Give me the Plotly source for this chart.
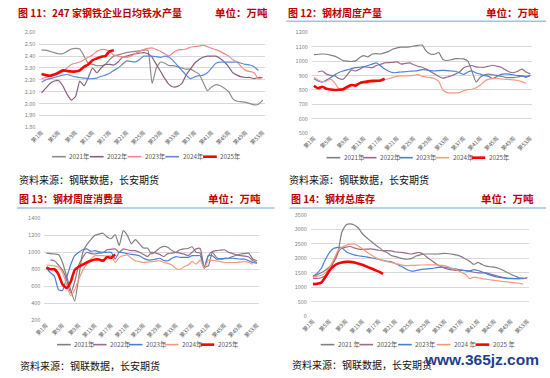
import plotly.graph_objects as go

W, H = 550, 378
FONT = "Noto Sans CJK SC"

WEEKS = [f"第{i}周" for i in range(1, 54)]
TICK_WEEKS = WEEKS[::4]
YEARS = ["2021年", "2022年", "2023年", "2024年", "2025年"]
YEARS_4 = ["2021 年", "2022年", "2023年", "2024 年", "2025 年"]
SOURCE = "资料来源：钢联数据，长安期货"
UNIT = "单位：万吨"

# ---- 图11 日均铁水产量 ----
IRON_2021 = [2.45, 2.45, 2.44, 2.43, 2.42, 2.42, 2.44, 2.46, 2.465, 2.46, 2.40, 2.34, 2.33, 2.32, 2.32, 2.33,
             2.37, 2.40, 2.41, 2.42, 2.43, 2.435, 2.44, 2.445, 2.45, 2.45, 2.17, 2.30, 2.35, 2.34, 2.32, 2.32,
             2.31, 2.30, 2.29, 2.29, 2.27, 2.25, 2.18, 2.11, 2.14, 2.16, 2.15, 2.13, 2.10, 2.04, 2.02, 2.015,
             2.01, 2.00, 1.99, 1.995, 2.03]
IRON_2022 = [2.09, 2.13, 2.17, 2.19, 2.195, 2.15, 2.08, 2.03, 2.06, 2.19, 2.15, 2.22, 2.30, 2.26, 2.30, 2.33,
             2.33, 2.325, 2.35, 2.39, 2.40, 2.41, 2.42, 2.425, 2.43, 2.42, 2.39, 2.33, 2.27, 2.21, 2.16, 2.14,
             2.145, 2.17, 2.24, 2.29, 2.34, 2.37, 2.39, 2.40, 2.40, 2.40, 2.38, 2.35, 2.31, 2.26, 2.24, 2.225,
             2.22, 2.22, 2.21, 2.22, 2.22]
IRON_2023 = [2.21, 2.22, 2.23, 2.24, 2.25, 2.27, 2.30, 2.33, 2.34, 2.35, 2.37, 2.39, 2.41, 2.44, 2.455, 2.455,
             2.44, 2.41, 2.40, 2.395, 2.39, 2.40, 2.42, 2.44, 2.455, 2.465, 2.47, 2.455, 2.44, 2.42, 2.40, 2.43,
             2.45, 2.455, 2.46, 2.475, 2.48, 2.485, 2.49, 2.48, 2.465, 2.455, 2.44, 2.42, 2.40, 2.37, 2.35, 2.31,
             2.28, 2.27, 2.26, 2.21, 2.22]
IRON_2024 = [2.18, 2.20, 2.21, 2.22, 2.23, 2.24, 2.245, 2.235, 2.225, 2.22, 2.215, 2.21, 2.21, 2.215, 2.23, 2.24,
             2.255, 2.28, 2.30, 2.33, 2.36, 2.355, 2.35, 2.37, 2.40, 2.40, 2.40, 2.395, 2.39, 2.40, 2.39, 2.36,
             2.32, 2.28, 2.24, 2.21, 2.225, 2.235, 2.24, 2.26, 2.30, 2.34, 2.35, 2.35, 2.35, 2.35, 2.35, 2.34,
             2.33, 2.325, 2.31, 2.28]
IRON_2025 = [2.25, 2.24, 2.235, 2.245, 2.26, 2.28, 2.275, 2.27, 2.27, 2.28, 2.31, 2.33, 2.365, 2.38, 2.395, 2.40,
             2.44, 2.45]

# ---- 图12 钢材周度产量 ----
PROD_2021 = [1045, 1048, 1050, 1048, 1042, 1035, 1020, 1005, 1000, 998, 1002, 1025, 1038, 1030, 1050, 1052,
             1050, 1058, 1068, 1085, 1093, 1098, 1098, 1100, 1105, 1110, 1112, 1070, 1050, 1048, 1060, 1012,
             1005, 1010, 1018, 1017, 1016, 1000, 930, 855, 890, 905, 910, 905, 902, 895, 888, 886,
             886, 890, 898, 895, 900]
PROD_2022 = [None, 925, 932, 910, 902, 898, 880, 875, 905, 940, 932, 945, 960, 958, 955, 970,
             978, 988, 990, 992, 995, 980, 985, 988, 975, 965, 958, 945, 928, 912, 895, 882,
             890, 898, 910, 925, 955, 965, 970, 960, 958, 958, 965, 972, 965, 958, 940, 925,
             920, 930, 945, 925, 912]
PROD_2023 = [878, 862, 855, 870, 885, 905, 922, 932, 940, 948, 955, 958, 962, 970, 980, 988,
             968, 945, 930, 920, 922, 925, 927, 930, 932, 935, 942, 940, 935, 932, 935, 936,
             935, 932, 930, 920, 908, 925, 932, 918, 910, 900, 895, 880, 895, 908, 912, 910,
             905, 900, 898, 888, 902]
PROD_2024 = [886, 870, 858, 862, 875, 850, 807, 797, 810, 830, 840, 845, 848, 850, 852, 858,
             864, 870, 880, 888, 895, 898, 898, 900, 902, 908, 895, 890, 886, 878, 860, 800,
             782, 780, 780, 782, 795, 802, 805, 815, 835, 860, 875, 878, 882, 876, 874, 872,
             870, 866, 858, 845]
PROD_2025 = [830, 812, 823, 808, 803, 800, 802, 805, 822, 835, 830, 848, 855, 860, 864, 864,
             866, 878]

# ---- 图13 钢材周度消费量 ----
CONS_2021 = [990, 985, 980, 975, 880, 720, 560, 425, 700, 1000, 1090, 1150, 1200, 1215, 1225, 1180,
             1160, 1210, 1080, 1256, 1200, 1100, 1150, 1100, 1050, 1050, 980, 1010, 1050, 1070, 1060, 1020,
             1000, 1030, 1040, 1045, 1065, 1000, 990, 830, 840, 1000, 940, 920, 925, 930, 950, 965,
             980, 985, 990, 920, 900]
CONS_2022 = [None, 910, 900, 850, 790, 680, 520, 650, 850, 940, 1000, 985, 980, 990, 995, 1030,
             1035, 1040, 1000, 1040, 1030, 1020, 1020, 1000, 975, 950, 1000, 990, 975, 950, 985, 990,
             1000, 990, 980, 960, 1000, 1040, 1045, 810, 960, 1010, 1020, 1025, 1030, 1000, 985, 970,
             960, 955, 945, 900, 880]
CONS_2023 = [815, 760, 720, 560, 550, 700, 850, 960, 1000, 1030, 1040, 1010, 1020, 1005, 1000, 1000,
             1000, 920, 1000, 995, 985, 975, 970, 960, 930, 910, 910, 920, 930, 905, 900, 930,
             950, 940, 940, 940, 960, 960, 960, 820, 960, 960, 920, 925, 930, 930, 930, 925,
             920, 920, 900, 880, 870]
CONS_2024 = [850, 845, 840, 825, 760, 620, 490, 560, 680, 790, 860, 920, 960, 960, 960, 955,
             960, 880, 940, 960, 970, 930, 900, 890, 880, 885, 890, 895, 900, 880, 870, 850,
             810, 800, 830, 850, 890, 860, 910, 810, 910, 905, 900, 890, 880, 880, 880, 880,
             885, 890, 880, 860]
CONS_2025 = [823, 800, 800, 740, 620, 580, 650, 790, 830, 855, 880, 900, 915, 915, 900, 945,
             935, 975]

# ---- 图14 钢材总库存 ----
STOCK_2021 = [1370, 1430, 1500, 1590, 1700, 1860, 2150, 2900, 3150, 3190, 3150, 3050, 2850, 2720, 2600, 2480,
              2380, 2270, 2200, 2100, 2060, 2020, 1980, 1970, 2000, 2080, 2120, 2150, 2150, 2150, 2150, 2160,
              2170, 2160, 2140, 2110, 2060, 1980, 1900, 1790, 1860, 1790, 1730, 1710, 1700, 1660, 1600, 1520,
              1450, 1390, 1330, 1300, 1330]
STOCK_2022 = [1320, 1310, 1330, 1400, 1550, 1900, 2200, 2350, 2390, 2410, 2360, 2320, 2310, 2320, 2330, 2310,
              2280, 2260, 2270, 2260, 2220, 2210, 2200, 2170, 2150, 2190, 2200, 2120, 2000, 1900, 1800, 1720,
              1660, 1620, 1600, 1580, 1580, 1570, 1560, 1520, 1500, 1500, 1500, 1460, 1420, 1380, 1340, 1320,
              1310, 1300, 1300, 1310, 1330]
STOCK_2023 = [1380, 1480, 1650, 1950, 2200, 2340, 2380, 2370, 2240, 2170, 2120, 2090, 2070, 2050, 2020, 2000,
              1960, 1930, 1900, 1880, 1820, 1750, 1680, 1600, 1560, 1580, 1610, 1630, 1640, 1650, 1680, 1700,
              1690, 1670, 1650, 1620, 1600, 1580, 1560, 1610, 1580, 1530, 1480, 1420, 1380, 1350, 1330, 1310,
              1300, 1300, 1300, 1330]
STOCK_2024 = [1360, 1380, 1410, 1500, 1680, 1950, 2250, 2380, 2450, 2490, 2500, 2430, 2330, 2220, 2130, 2040,
              1970, 1920, 1890, 1860, 1820, 1790, 1760, 1750, 1760, 1760, 1770, 1770, 1775, 1780, 1770, 1760,
              1750, 1700, 1640, 1600, 1520, 1450, 1300, 1350, 1330, 1300, 1280, 1260, 1240, 1220, 1200, 1190,
              1170, 1150, 1140, 1110]
STOCK_2025 = [1110, 1120, 1160, 1350, 1580, 1730, 1820, 1860, 1880, 1880, 1860, 1820, 1780, 1720, 1660, 1600,
              1540, 1460]

COLORS_A = ["#8c8c8c", "#8b5f80", "#f4868c", "#5b8bd9", "#ff0000"]
COLORS_B = ["#808080", "#9b6b8c", "#4a7fd4", "#f79a7a", "#ff0000"]


def px(x):
    return x / W


def py(y):
    return 1 - y / H


panels = [
    dict(title="图 11：247 家钢铁企业日均铁水产量", series=[IRON_2021, IRON_2022, IRON_2023, IRON_2024, IRON_2025],
         colors=COLORS_A, labels=YEARS, xd=(30, 260), yd=(126, 29), yr=(1.8, 2.6), dtick=0.1, fmt=".2f",
         title_y=9, unit_right=265, left=6, rule=None, leg_x=43, leg_pitch=38.5, leg_y=156, src_y=179.5),
    dict(title="图 12：钢材周度产量", series=[PROD_2021, PROD_2022, PROD_2023, PROD_2024, PROD_2025],
         colors=COLORS_B, labels=YEARS, xd=(308, 533), yd=(132, 29), yr=(500, 1200), dtick=100, fmt="d",
         title_y=9, unit_right=542, left=282, rule=(282, 547, 17.5), leg_x=323, leg_pitch=37, leg_y=157, src_y=179),
    dict(title="图 13：钢材周度消费量", series=[CONS_2021, CONS_2022, CONS_2023, CONS_2024, CONS_2025],
         colors=COLORS_B, labels=YEARS, xd=(35, 254), yd=(323, 219), yr=(200, 1400), dtick=200, fmt="d",
         title_y=199, unit_right=258, left=7, rule=(7, 270, 208.5), leg_x=48, leg_pitch=36.6, leg_y=348, src_y=369.5),
    dict(title="图 14：钢材总库存", series=[STOCK_2021, STOCK_2022, STOCK_2023, STOCK_2024, STOCK_2025],
         colors=COLORS_B, labels=YEARS_4, xd=(307, 530), yd=(319, 215.5), yr=(0, 3500), dtick=500, fmt="d",
         title_y=199, unit_right=537, left=285, rule=(285, 547, 208.5), leg_x=317, leg_pitch=39.5, leg_y=348, src_y=368),
]

fig = go.Figure()
annotations = []
shapes = []
layout = dict(
    width=W, height=H, margin=dict(l=0, r=0, t=0, b=0),
    paper_bgcolor="white", plot_bgcolor="white", showlegend=False,
    font=dict(family=FONT, color="#595959"),
)

for i, p in enumerate(panels):
    n = "" if i == 0 else str(i + 1)
    xa, ya = "x" + n, "y" + n
    for k, vals in enumerate(p["series"]):
        is_cur = k == 4
        fig.add_trace(go.Scatter(
            x=WEEKS[:len(vals)], y=vals, mode="lines", name=p["labels"][k],
            xaxis=xa, yaxis=ya, connectgaps=False,
            line=dict(color=p["colors"][k], width=2.6 if is_cur else 1.2, shape="spline", smoothing=0.5),
            hoverinfo="skip",
        ))
    layout["xaxis" + n] = dict(
        domain=[px(p["xd"][0]), px(p["xd"][1])], anchor=ya,
        type="category", categoryorder="array", categoryarray=WEEKS, range=[-0.5, 52.5],
        tickmode="array", tickvals=TICK_WEEKS, tickangle=-45,
        tickfont=dict(size=5.5, color="#595959", family=FONT),
        showgrid=False, showline=False, zeroline=False, ticks="",
    )
    layout["yaxis" + n] = dict(
        domain=[py(p["yd"][0]), py(p["yd"][1])], anchor=xa,
        range=list(p["yr"]), dtick=p["dtick"], tick0=p["yr"][0], tickformat=p["fmt"],
        tickfont=dict(size=5.5, color="#7f7f7f", family=FONT),
        showgrid=True, gridcolor="#d9d9d9", gridwidth=0.8,
        showline=False, zeroline=False, ticks="", ticklabelstandoff=3,
    )
    # title and unit
    annotations.append(dict(text="<b>" + p["title"] + "</b>", x=px(p["left"]), y=py(p["title_y"]),
                            xref="paper", yref="paper", xanchor="left", yanchor="middle", showarrow=False,
                            font=dict(size=10, color="#c00000", family=FONT)))
    annotations.append(dict(text="<b>" + UNIT + "</b>", x=px(p["unit_right"]), y=py(p["title_y"]),
                            xref="paper", yref="paper", xanchor="right", yanchor="middle", showarrow=False,
                            font=dict(size=10.5, color="#c00000", family=FONT)))
    if p["rule"]:
        x0, x1, yy = p["rule"]
        shapes.append(dict(type="line", xref="paper", yref="paper", x0=px(x0), x1=px(x1), y0=py(yy), y1=py(yy),
                           line=dict(color="#9dc3e6", width=1.5)))
    # source
    annotations.append(dict(text=SOURCE, x=px(p["left"] + 1), y=py(p["src_y"]),
                            xref="paper", yref="paper", xanchor="left", yanchor="middle", showarrow=False,
                            font=dict(size=10, color="#111111", family=FONT)))
    # legend (manual, compact like the source)
    for k, lab in enumerate(p["labels"]):
        lx = p["leg_x"] + k * p["leg_pitch"]
        shapes.append(dict(type="line", xref="paper", yref="paper", x0=px(lx), x1=px(lx + 14),
                           y0=py(p["leg_y"]), y1=py(p["leg_y"]),
                           line=dict(color=p["colors"][k], width=2.6 if k == 4 else 1.6)))
        annotations.append(dict(text=lab, x=px(lx + 15.5), y=py(p["leg_y"]), xref="paper", yref="paper",
                                xanchor="left", yanchor="middle", showarrow=False,
                                font=dict(size=6.3, color="#595959", family=FONT)))

annotations.append(dict(text="<b>www.365jz.com</b>", x=px(542), y=py(363.5), xref="paper", yref="paper",
                        xanchor="right", yanchor="middle", showarrow=False,
                        font=dict(size=15.5, color="#1f3f8f", family="Liberation Sans")))

layout["annotations"] = annotations
layout["shapes"] = shapes
fig.update_layout(**layout)

fig.write_html("out.html", config={"displayModeBar": False},
               post_script="document.body.style.margin='0';")
